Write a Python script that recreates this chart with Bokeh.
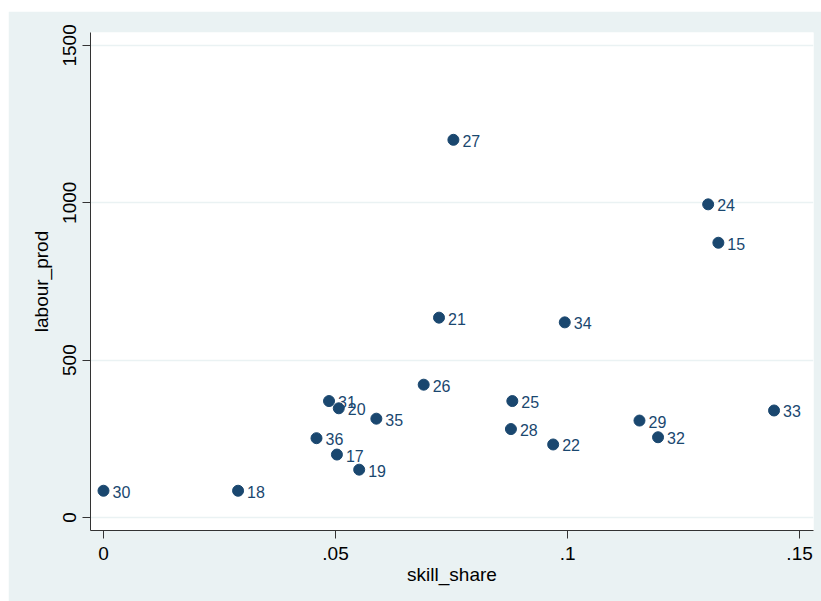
from bokeh.plotting import figure
from bokeh.models import ColumnDataSource, Range1d, FixedTicker
from bokeh.core.properties import value
from bokeh.embed import file_html
from bokeh.resources import INLINE

ids = ["30", "18", "31", "20", "35", "36", "17", "19", "21", "34",
       "26", "25", "28", "22", "29", "32", "33", "27", "24", "15"]
skill_share = [0.0, 0.0290, 0.0486, 0.0507, 0.0588, 0.0459, 0.0503, 0.0551, 0.0723, 0.0994,
               0.0690, 0.0881, 0.0878, 0.0969, 0.1155, 0.1195, 0.1445, 0.0754, 0.1303, 0.1325]
labour_prod = [85, 85, 370, 347, 314, 252, 200, 152, 635, 620,
               422, 370, 281, 232, 308, 255, 340, 1200, 995, 873]

x_ticks = [0, 0.05, 0.1, 0.15]
x_tick_labels = ["0", ".05", ".1", ".15"]
y_ticks = [0, 500, 1000, 1500]

BG = "#EAF2F3"
NAVY = "#1A476F"
FONT = "Liberation Sans"

src = ColumnDataSource(dict(x=skill_share, y=labour_prod, lab=ids))

p = figure(width=813, height=590, output_backend="svg", toolbar_location=None,
           x_range=Range1d(-0.0028, 0.1530), y_range=Range1d(-41.3, 1541),
           min_border_left=82, min_border_right=8, min_border_top=21, min_border_bottom=71)
p.margin = (11, 0, 0, 8)
p.background_fill_color = "white"
p.border_fill_color = BG
p.outline_line_color = None

p.xgrid.grid_line_color = None
p.ygrid.grid_line_color = BG
p.ygrid.grid_line_width = 1.5

p.xaxis.ticker = FixedTicker(ticks=x_ticks)
p.xaxis.major_label_overrides = {t: l for t, l in zip(x_ticks, x_tick_labels)}
p.yaxis.ticker = FixedTicker(ticks=y_ticks)
p.yaxis.major_label_orientation = "vertical"

for ax in (p.xaxis[0], p.yaxis[0]):
    ax.axis_line_color = "#333333"
    ax.axis_line_width = 1
    ax.major_tick_line_color = "#333333"
    ax.major_tick_in = 0
    ax.major_tick_out = 8
    ax.minor_tick_line_color = None
    ax.major_label_text_font = FONT
    ax.major_label_text_font_size = "19px"
    ax.major_label_text_color = "black"
    ax.axis_label_text_font = FONT
    ax.axis_label_text_font_size = "19px"
    ax.axis_label_text_font_style = "normal"
    ax.axis_label_text_color = "black"

p.xaxis.axis_label = "skill_share"
p.yaxis.axis_label = "labour_prod"
p.xaxis.major_label_standoff = 8
p.xaxis.axis_label_standoff = 1
p.yaxis.major_label_standoff = 6
p.yaxis.axis_label_standoff = 9

p.scatter("x", "y", source=src, size=11, fill_color=NAVY, line_color=NAVY)
p.text("x", "y", text="lab", source=src, x_offset=9, y_offset=1,
       text_font=value(FONT), text_font_size="16px", text_color=NAVY,
       text_baseline="middle", text_align="left")

open("out.html", "w").write(file_html(p, INLINE))
